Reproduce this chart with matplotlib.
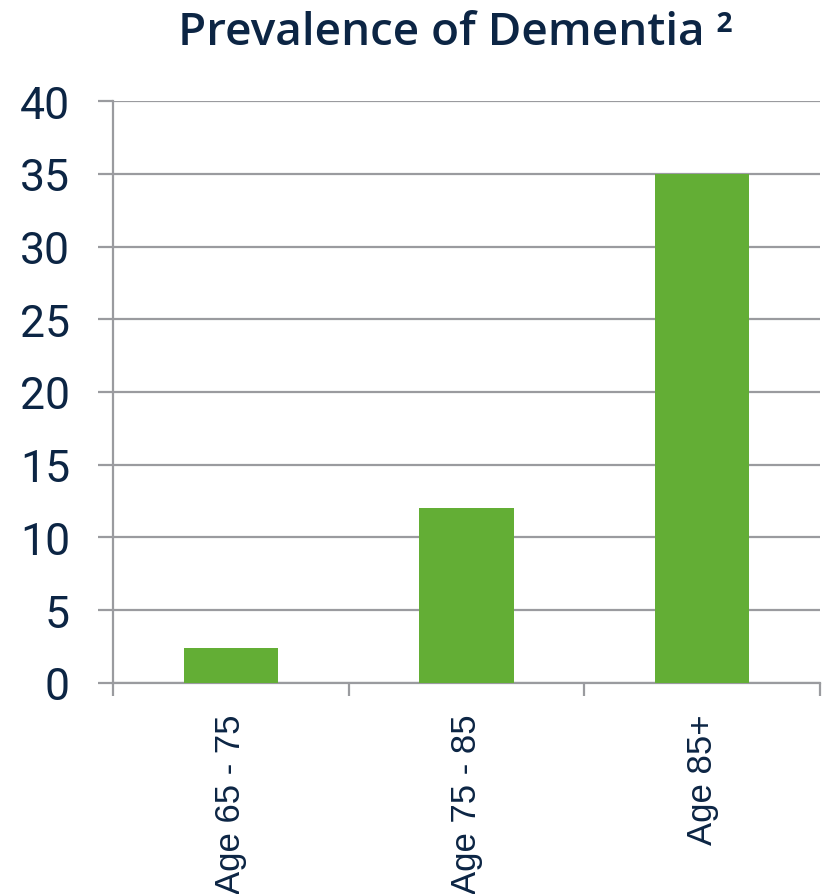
import matplotlib.pyplot as plt

categories = ['Age 65 - 75', 'Age 75 - 85', 'Age 85+']
prevalence = [2.4, 12, 35]
yticks = [0, 5, 10, 15, 20, 25, 30, 35, 40]

navy = '#0c2544'
grid_gray = '#9a9b9f'
bar_green = '#63ae35'

fig = plt.figure(figsize=(8.23, 8.95), dpi=100)
ax = fig.add_axes([0.1373, 0.2358, 0.8591, 0.6502])

x = list(range(len(categories)))
ax.bar(x, prevalence, width=0.4, color=bar_green, zorder=3)

ax.set_xlim(-0.5, len(categories) - 0.5)
ax.set_ylim(0, 40)
ax.set_yticks(yticks)
ax.set_yticklabels([str(t) for t in yticks], fontsize=32, color=navy,
                   family='Roboto')
ax.yaxis.grid(True, color=grid_gray, linewidth=1.6, zorder=0)

# category boundary ticks on x axis, labels at centres
ax.set_xticks([-0.5, 0.5, 1.5, 2.5])
ax.set_xticklabels([])
ax.set_xticks(x, minor=True)
ax.set_xticklabels(categories, minor=True, rotation=90, fontsize=25,
                   color=navy, family='Liberation Sans')
ax.tick_params(axis='x', which='minor', length=0, pad=22)
ax.tick_params(axis='x', which='major', length=9, width=1.6, color=grid_gray)
ax.tick_params(axis='y', length=11, width=1.6, color=grid_gray, pad=20)

for s in ['top', 'right']:
    ax.spines[s].set_visible(False)
for s in ['left', 'bottom']:
    ax.spines[s].set_color(grid_gray)
    ax.spines[s].set_linewidth(1.6)

fig.text(0.553, 0.963, 'Prevalence of Dementia \u00b2', ha='center', va='center',
         fontsize=33, fontweight='semibold', color=navy, family='Open Sans')

fig.savefig('out.png', dpi=100, facecolor='white')
